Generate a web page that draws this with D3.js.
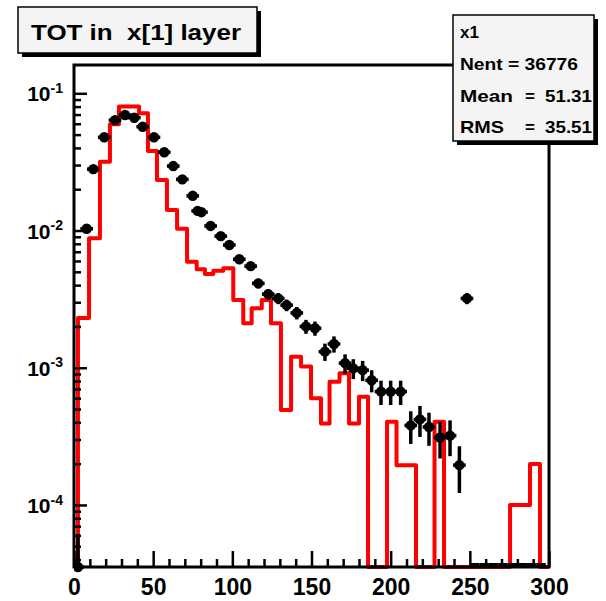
<!DOCTYPE html>
<html>
<head>
<meta charset="utf-8">
<script src="https://cdn.jsdelivr.net/npm/d3@7/dist/d3.min.js"></script>
<style>
  body { margin: 0; background: #fff; }
  text { font-family: "Liberation Sans", Arial, Helvetica, sans-serif; font-weight: bold; }
</style>
</head>
<body>
<svg id="chart" width="606" height="601"></svg>
<script>
// red histogram: bin edges (TOT) and contents
var redEdges = [2.5, 9.5, 16.4, 22.7, 28.4, 34.7, 41.1, 46.7, 52.4, 58.7, 65.1, 71.4, 77.5, 82.7, 88.0,
  94.3, 100.6, 106.9, 112.2, 118.6, 124.4, 130.7, 137.1, 143.4, 149.7, 156.0, 161.4, 167.7, 173.7,
  180.0, 185.7, 191.7, 197.7, 203.7, 209.7, 216.0, 222.0, 227.7, 233.7, 239.7, 245.7, 251.6, 257.6,
  263.5, 269.5, 275.4, 281.7, 288.0, 294.3, 300];
var redValues = [0.0023, 0.0088, 0.0317, 0.0594, 0.080, 0.080, 0.0715, 0.038, 0.0233, 0.0141, 0.0103,
  0.00593, 0.00521, 0.00482, 0.00509, 0.0053, 0.00311, 0.00211, 0.00271, 0.00311, 0.00211, 0.000492,
  0.0012, 0.00102, 0.000598, 0.000393, 0.00079, 0.00091, 0.000393, 0.000615, 0, 0, 0.000404, 0.000195,
  0.000195, 0, 0, 0.000404, 0, 0, 0, 0, 0, 0, 0, 0.0001, 0.0001, 0.000199, 0];

// black points (x1)
var dotX = [2.5, 8.0, 12.2, 19.1, 25.9, 32.2, 38.1, 43.4, 50.5, 57.0, 62.7, 68.4, 75.0, 78.1, 80.5,
  86.3, 92.7, 98.1, 104.4, 111.6, 116.4, 122.7, 129.0, 134.3, 140.7, 146.5, 152.2, 158.5, 164.2,
  171.2, 176.4, 182.3, 188.0, 193.9, 200.0, 206.3, 212.7, 218.5, 224.2, 231.2, 237.5, 243.4, 248.2];
var dotY = [0.000032, 0.0103, 0.028, 0.0478, 0.0638, 0.0695, 0.0664, 0.0571, 0.0478, 0.0372, 0.0295,
  0.0236, 0.0179, 0.0139, 0.0136, 0.0108, 0.0091, 0.00784, 0.00617, 0.0055, 0.00412, 0.00344, 0.0032,
  0.00286, 0.00251, 0.0020, 0.00194, 0.00131, 0.00149, 0.00108, 0.00099, 0.00096, 0.00081, 0.00067,
  0.00067, 0.00067, 0.00038, 0.00042, 0.00037, 0.00031, 0.00032, 0.000195, 0.0032];
// empty bins of x1 (drawn on the bottom edge)
var emptyX = [253, 259, 265, 271, 277, 283, 289, 295];

var nEntries = 36776;
var statLabels = ["Mean", "RMS"];
var statValues = ["51.31", "35.51"];
var xMajor = [0, 50, 100, 150, 200, 250, 300];
var yDecades = [-4, -3, -2, -1];

var margin = {top: 65, right: 57, bottom: 34, left: 74},
    width = 606 - margin.left - margin.right,
    height = 601 - margin.top - margin.bottom;

var svg = d3.select("#chart");

var x = d3.scaleLinear().domain([0, 300]).range([0, width]);
var y = d3.scaleLog().domain([3.53e-5, 0.1608]).range([height, 0]).clamp(true);

var g = svg.append("g")
    .attr("transform", "translate(" + margin.left + "," + margin.top + ")");

g.append("clipPath").attr("id", "frameclip")
  .append("rect").attr("x", 0).attr("y", -2).attr("width", width).attr("height", height + 8);

// red histogram
var pts = [[x(0), height], [x(redEdges[0]), height]];
redValues.forEach(function(v, i) {
  var yy = v > 0 ? y(v) : height;
  pts.push([x(redEdges[i]), yy]);
  pts.push([x(redEdges[i + 1]), yy]);
});
pts.push([x(300), height]);

g.append("path")
    .attr("d", d3.line()(pts))
    .attr("fill", "none")
    .attr("stroke", "#ff0000")
    .attr("stroke-width", 4)
    .attr("stroke-linejoin", "round");

// black points with errors
var pts2 = dotX.map(function(d, i) { return {x: d, v: dotY[i]}; });
var dots = g.append("g").attr("clip-path", "url(#frameclip)");
dots.selectAll(".ey")
    .data(pts2)
  .enter().append("line")
    .attr("x1", function(d) { return x(d.x); })
    .attr("x2", function(d) { return x(d.x); })
    .attr("y1", function(d) { var r = 1 / Math.sqrt(d.v * nEntries); return y(d.v * (1 + r)); })
    .attr("y2", function(d) { var r = 1 / Math.sqrt(d.v * nEntries); return y(Math.max(d.v * (1 - r), 1e-9)); })
    .attr("stroke", "#000")
    .attr("stroke-width", 3.5);
dots.selectAll(".ex")
    .data(pts2)
  .enter().append("line")
    .attr("x1", function(d) { return x(d.x - 4); })
    .attr("x2", function(d) { return x(d.x + 4); })
    .attr("y1", function(d) { return y(d.v); })
    .attr("y2", function(d) { return y(d.v); })
    .attr("stroke", "#000")
    .attr("stroke-width", 3.5);
dots.selectAll("circle")
    .data(pts2)
  .enter().append("circle")
    .attr("cx", function(d) { return x(d.x); })
    .attr("cy", function(d) { return y(d.v); })
    .attr("r", 5.2)
    .attr("fill", "#000");
dots.selectAll(".empty")
    .data(emptyX)
  .enter().append("line")
    .attr("x1", function(d) { return x(d - 3); })
    .attr("x2", function(d) { return x(d + 3); })
    .attr("y1", height - 2)
    .attr("y2", height - 2)
    .attr("stroke", "#000")
    .attr("stroke-width", 4);

// frame
g.append("rect")
    .attr("width", width).attr("height", height)
    .attr("fill", "none").attr("stroke", "#000").attr("stroke-width", 3);

// x axis
var xMinor = d3.range(0, 301, 10).filter(function(v) { return v % 50 !== 0; });
g.append("g")
    .attr("transform", "translate(0," + height + ")")
    .call(d3.axisBottom(x).tickValues(xMinor).tickSize(-8).tickFormat(""))
    .call(function(a) { a.select(".domain").remove(); a.selectAll("line").attr("stroke-width", 2.5); });
var xAx = g.append("g")
    .attr("transform", "translate(0," + height + ")")
    .call(d3.axisBottom(x).tickValues(xMajor).tickSize(-16).tickPadding(11).tickFormat(d3.format("d")));
xAx.select(".domain").remove();
xAx.selectAll("line").attr("stroke-width", 2.5);
xAx.selectAll("text").attr("font-size", 23).attr("fill", "#000").attr("dy", "0.72em");

// y axis
var yMinor = [];
[-5, -4, -3, -2, -1].forEach(function(d) {
  for (var k = 2; k <= 9; k++) {
    var v = k * Math.pow(10, d);
    if (v >= y.domain()[0] && v <= y.domain()[1]) yMinor.push(v);
  }
});
g.append("g")
    .call(d3.axisLeft(y).tickValues(yMinor).tickSize(-7).tickFormat(""))
    .call(function(a) { a.select(".domain").remove(); a.selectAll("line").attr("stroke-width", 2.5); });
var yAx = g.append("g")
    .call(d3.axisLeft(y).tickValues(yDecades.map(function(d) { return Math.pow(10, d); }))
      .tickSize(-13).tickPadding(11).tickFormat(""));
yAx.select(".domain").remove();
yAx.selectAll("line").attr("stroke-width", 2.5);
yAx.selectAll(".tick text").each(function(d) {
  var t = d3.select(this).attr("font-size", 21).attr("fill", "#000").attr("dy", "0.36em");
  t.append("tspan").text("10");
  t.append("tspan").attr("font-size", 14).attr("dy", "-0.6em").text(Math.round(Math.log10(d)));
});

// title box
var tb = svg.append("g");
tb.append("rect").attr("x", 22).attr("y", 11).attr("width", 239).attr("height", 46).attr("fill", "#000");
tb.append("rect").attr("x", 18).attr("y", 7).attr("width", 239).attr("height", 46)
    .attr("fill", "#f4f4f4").attr("stroke", "#000").attr("stroke-width", 1.5);
tb.append("text").attr("x", 31).attr("y", 40).attr("font-size", 22)
    .attr("textLength", 210).attr("lengthAdjust", "spacingAndGlyphs")
    .attr("xml:space", "preserve").style("white-space", "pre")
    .text("TOT in  x[1] layer");

// stats box
var sb = svg.append("g");
sb.append("rect").attr("x", 457).attr("y", 19).attr("width", 141).attr("height", 126).attr("fill", "#000");
sb.append("rect").attr("x", 453).attr("y", 15).attr("width", 141).attr("height", 126)
    .attr("fill", "#f4f4f4").attr("stroke", "#000").attr("stroke-width", 1.5);
sb.append("text").attr("x", 460).attr("y", 38).attr("font-size", 17).text("x1");
sb.append("text").attr("x", 460).attr("y", 70).attr("font-size", 17)
    .attr("textLength", 118).attr("lengthAdjust", "spacingAndGlyphs").text("Nent = " + nEntries);
statLabels.forEach(function(s, i) {
  var yy = 102 + i * 31;
  sb.append("text").attr("x", 460).attr("y", yy).attr("font-size", 17)
      .attr("textLength", s === "Mean" ? 53 : 44).attr("lengthAdjust", "spacingAndGlyphs").text(s);
  sb.append("text").attr("x", 530).attr("y", yy).attr("font-size", 17).attr("text-anchor", "middle").text("=");
  sb.append("text").attr("x", 592).attr("y", yy).attr("font-size", 17).attr("text-anchor", "end")
      .attr("textLength", 47).attr("lengthAdjust", "spacingAndGlyphs").text(statValues[i]);
});
</script>
</body>
</html>
